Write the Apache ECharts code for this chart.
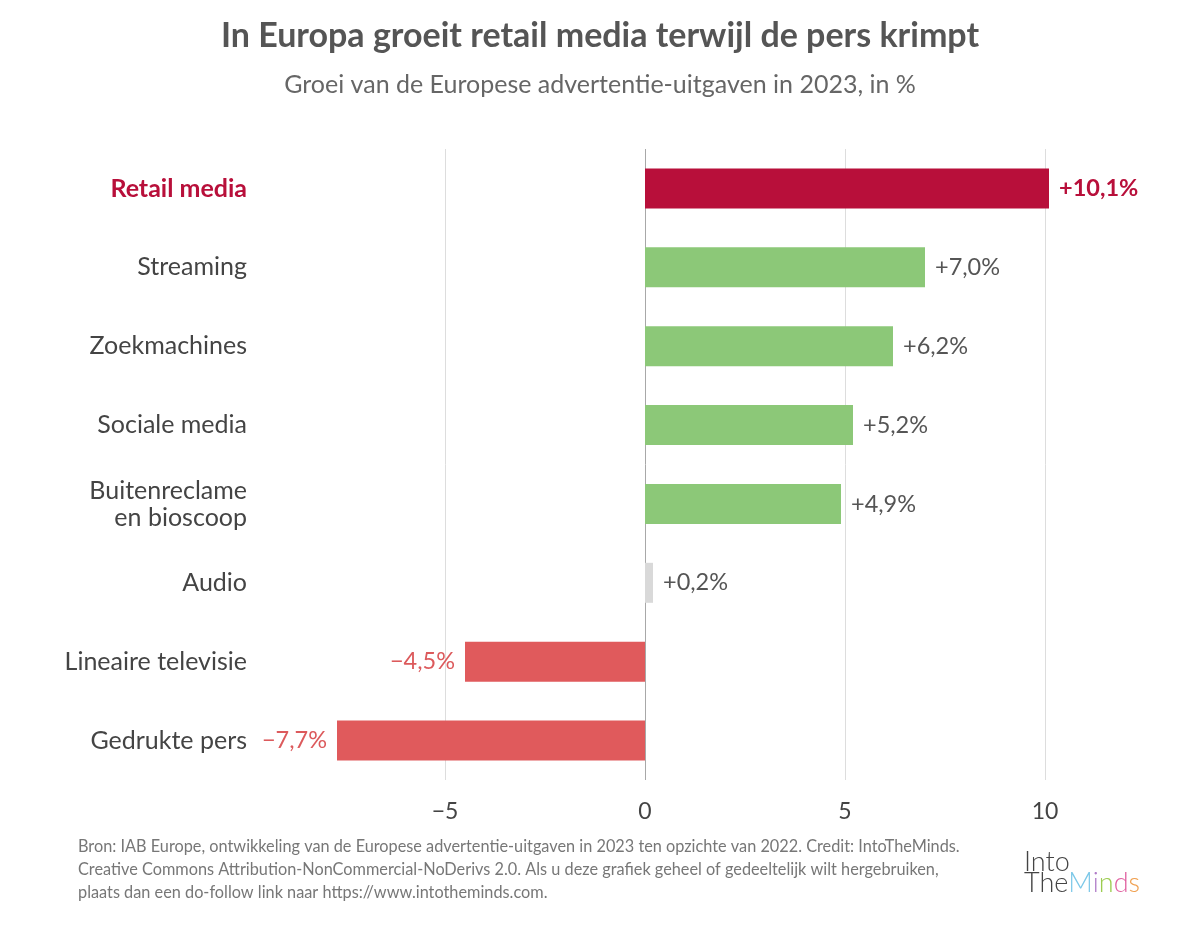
<!DOCTYPE html>
<html>
<head>
<meta charset="utf-8">
<script src="https://cdn.jsdelivr.net/npm/echarts@6/dist/echarts.min.js"></script>
<style>
html,body{margin:0;padding:0;background:#fff;}
#chart{width:1200px;height:927px;}
</style>
</head>
<body>
<div id="chart"></div>
<script>
const categories = ['Retail media','Streaming','Zoekmachines','Sociale media','Buitenreclame\nen bioscoop','Audio','Lineaire televisie','Gedrukte pers'];
const values = [10.1, 7.0, 6.2, 5.2, 4.9, 0.2, -4.5, -7.7];
const barColors = ['#b80f3a','#8cc878','#8cc878','#8cc878','#8cc878','#d9d9d9','#e05a5c','#e05a5c'];
const labelColors = ['#b80f3a','#555555','#555555','#555555','#555555','#555555','#dc5a5c','#dc5a5c'];
const xTickLabels = [-5, 0, 5, 10];

function fmt(v){
  const s = Math.abs(v).toFixed(1).replace('.', ',');
  return (v < 0 ? '\u2212' : '+') + s + '%';
}

const chart = echarts.init(document.getElementById('chart'));
const FONT = 'Lato, "Noto Sans", sans-serif';

const data = values.map((v, i) => ({
  value: v,
  itemStyle: { color: barColors[i] },
  label: {
    show: true,
    position: v < 0 ? 'left' : 'right',
    distance: 10,
    formatter: fmt(v),
    color: labelColors[i],
    fontSize: 23.5,
    fontWeight: i === 0 ? 'bold' : 'normal',
    fontFamily: FONT
  }
}));

chart.setOption({
  backgroundColor: '#fff',
  animation: false,
  title: [
    { text: 'In Europa groeit retail media terwijl de pers krimpt', left: 'center', top: 14,
      textStyle: { fontSize: 34, fontWeight: 'bold', color: '#555', fontFamily: FONT } },
    { text: 'Groei van de Europese advertentie-uitgaven in 2023, in %', left: 'center', top: 67,
      textStyle: { fontSize: 25, fontWeight: 'normal', color: '#666', fontFamily: FONT } }
  ],
  grid: { left: 245, right: 75, top: 149, bottom: 147 },
  xAxis: {
    type: 'value', min: -10, max: 12, interval: 5,
    axisLine: { show: false }, axisTick: { show: false },
    axisLabel: {
      margin: 20, fontSize: 23, color: '#444', fontFamily: FONT,
      formatter: function (v) { return xTickLabels.indexOf(v) >= 0 ? (v < 0 ? '\u2212' + Math.abs(v) : String(v)) : ''; }
    },
    splitLine: { show: true, lineStyle: { width: 1, color: ['rgba(0,0,0,0)','#dddddd','#a8a8a8','#dddddd','#dddddd','rgba(0,0,0,0)'] } }
  },
  yAxis: {
    type: 'category', data: categories, inverse: true,
    axisLine: { show: false }, axisTick: { show: false },
    axisLabel: {
      margin: -2, fontSize: 25, color: '#444', fontFamily: FONT, lineHeight: 27,
      formatter: function (v, i) { return i === 0 ? '{h|' + v + '}' : v; },
      rich: { h: { fontSize: 25, fontWeight: 'bold', color: '#b80f3a', fontFamily: FONT } }
    }
  },
  series: [{ type: 'bar', data: data, barWidth: 40 }],
  graphic: [
    { type: 'text', left: 78, top: 835, style: {
      text: 'Bron: IAB Europe, ontwikkeling van de Europese advertentie-uitgaven in 2023 ten opzichte van 2022. Credit: IntoTheMinds.\nCreative Commons Attribution-NonCommercial-NoDerivs 2.0. Als u deze grafiek geheel of gedeeltelijk wilt hergebruiken,\nplaats dan een do-follow link naar https://www.intotheminds.com.',
      fontSize: 16.3, lineHeight: 23, fill: '#777', fontFamily: FONT } },
    { type: 'text', left: 1024, top: 849, style: {
      text: '{a|Into}\n{a|The}{m|M}{i|i}{n|n}{d|d}{s|s}',
      rich: {
        a: { fontSize: 27, fill: '#444', fontFamily: FONT, fontWeight: 300, lineHeight: 21 },
        m: { fontSize: 27, fill: '#7cc8e8', fontFamily: FONT, fontWeight: 300, lineHeight: 21 },
        i: { fontSize: 27, fill: '#b07cc8', fontFamily: FONT, fontWeight: 300, lineHeight: 21 },
        n: { fontSize: 27, fill: '#9ccc50', fontFamily: FONT, fontWeight: 300, lineHeight: 21 },
        d: { fontSize: 27, fill: '#e060a0', fontFamily: FONT, fontWeight: 300, lineHeight: 21 },
        s: { fontSize: 27, fill: '#f0a050', fontFamily: FONT, fontWeight: 300, lineHeight: 21 }
      } } }
  ]
});
</script>
</body>
</html>
